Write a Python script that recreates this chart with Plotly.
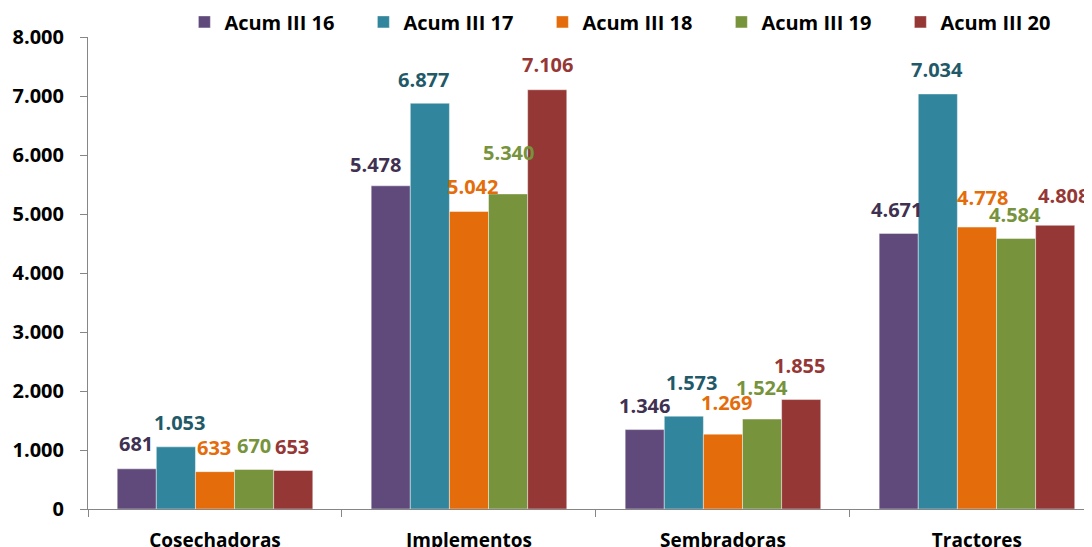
import plotly.graph_objects as go

categories = ["Cosechadoras", "Implementos", "Sembradoras", "Tractores"]
series_names = ["Acum III 16", "Acum III 17", "Acum III 18", "Acum III 19", "Acum III 20"]
acum_16 = [681, 5478, 1346, 4671]
acum_17 = [1053, 6877, 1573, 7034]
acum_18 = [633, 5042, 1269, 4778]
acum_19 = [670, 5340, 1524, 4584]
acum_20 = [653, 7106, 1855, 4808]
series_values = [acum_16, acum_17, acum_18, acum_19, acum_20]

bar_colors = ["#604A7B", "#31859C", "#E46C0A", "#77933C", "#953735"]
label_colors = ["#3F3151", "#215968", "#E46C0A", "#77933C", "#953735"]

# label placement nudges (pixels) mimicking the original label layout
label_dy = [[25, 21, 24, 24], [24, 24, 34, 24], [24, 25, 32, 30], [24, 41, 32, 24], [24, 25, 34, 30]]
label_dx = [[-1, -15, 0, -2], [4, -6, 8, -1], [-1, 4, 4, 6], [0, 0, 0, -1], [-1, 0, -2, 8]]

FONT = "Open Sans"
bargap = 0.23
bar_w = (1 - bargap) / len(series_names)

def fmt(v):
    return f"{v:,}".replace(",", ".")

fig = go.Figure()
for name, vals, col in zip(series_names, series_values, bar_colors):
    fig.add_trace(go.Bar(
        name=name, x=categories, y=vals,
        marker=dict(color=col, line=dict(color="rgba(255,255,255,0.55)", width=0.8)),
    ))

annotations = []
for j, (vals, col) in enumerate(zip(series_values, label_colors)):
    for i, v in enumerate(vals):
        annotations.append(dict(
            x=i + (j - 2) * bar_w, y=v, xref="x", yref="y",
            text=fmt(v), showarrow=False, yanchor="middle", xanchor="center",
            yshift=label_dy[j][i], xshift=label_dx[j][i],
            font=dict(family=FONT, size=20, color=col, weight="bold"),
        ))

# the page body adds an 8px margin, so the figure is sized to fill the rest of the window
fig.update_layout(
    width=1084, height=539, autosize=False,
    margin=dict(l=80, r=0, t=29, b=38, autoexpand=False),
    paper_bgcolor="white", plot_bgcolor="white",
    barmode="group", bargap=bargap, bargroupgap=0,
    separators=",.",
    font=dict(family=FONT, color="black"),
    showlegend=True,
    legend=dict(
        orientation="h", x=0.096, y=1.032, xanchor="left", yanchor="middle",
        font=dict(family=FONT, size=20, color="black", weight="bold"),
        entrywidth=134, entrywidthmode="pixels", itemclick=False,
        bgcolor="rgba(0,0,0,0)",
    ),
    annotations=annotations,
)
fig.update_xaxes(
    type="category", range=[-0.5, 3.453], automargin=False,
    showline=True, linecolor="#868686", linewidth=1,
    ticks="outside", tickson="boundaries", ticklen=7, tickcolor="#868686",
    showgrid=False, zeroline=False,
    tickfont=dict(family=FONT, size=19, color="black", weight="bold"),
    ticklabelstandoff=14,
)
fig.update_yaxes(
    range=[0, 8000], dtick=1000, tick0=0, tickformat=",d", automargin=False,
    showline=True, linecolor="#868686", linewidth=1,
    ticks="outside", ticklen=7, tickcolor="#868686",
    showgrid=False, zeroline=False,
    tickfont=dict(family=FONT, size=20, color="black", weight="bold"),
    ticklabelstandoff=12,
)

fig.write_html("out.html")
